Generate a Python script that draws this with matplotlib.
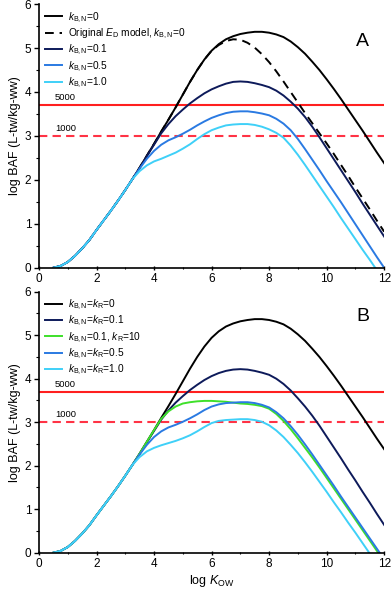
import matplotlib
matplotlib.use("Agg")
import matplotlib.pyplot as plt
from matplotlib.ticker import MultipleLocator

plt.rcParams.update(
    {
        "font.family": ["Liberation Sans", "DejaVu Sans"],
        "mathtext.fontset": "custom",
        "mathtext.rm": "Liberation Sans",
        "mathtext.it": "Liberation Sans:italic",
        "mathtext.bf": "Liberation Sans:bold",
        "axes.linewidth": 1.2,
    }
)

# shared log KOW grid (0.5 .. 12.0 in steps of 0.25)
log_kow = [0.5 + 0.25 * i for i in range(47)]

rise = [0.00, 0.04, 0.13, 0.27, 0.44, 0.63, 0.86, 1.08, 1.30, 1.53, 1.77, 2.02]  # 0.5 .. 3.25

black = rise + [
    2.28, 2.55, 2.82, 3.10, 3.37, 3.65, 3.94, 4.23, 4.50, 4.74, 4.94, 5.09, 5.20, 5.27,
    5.32, 5.35, 5.37, 5.37, 5.35, 5.31, 5.25, 5.15, 5.02, 4.87, 4.69, 4.50, 4.29, 4.07,
    3.84, 3.60, 3.36, 3.12, 2.87, 2.62, 2.38,
]
dashed_ed = rise + [
    2.28, 2.55, 2.82, 3.10, 3.37, 3.65, 3.94, 4.23, 4.50, 4.74, 4.94, 5.07, 5.16, 5.20,
    5.19, 5.12, 5.01, 4.86, 4.68, 4.47, 4.24, 4.00, 3.76, 3.52, 3.29, 3.06, 2.83, 2.59,
    2.34, 2.09, 1.83, 1.58, 1.33, 1.07, 0.82,
]
navy_a = rise + [
    2.27, 2.54, 2.80, 3.06, 3.27, 3.45, 3.60, 3.74, 3.86, 3.97, 4.06, 4.13, 4.19, 4.23,
    4.24, 4.23, 4.20, 4.16, 4.11, 4.03, 3.92, 3.78, 3.62, 3.43, 3.21, 2.97, 2.72, 2.47,
    2.22, 1.97, 1.72, 1.46, 1.21, 0.96, 0.71,
]
blue_a = rise + [
    2.26, 2.48, 2.66, 2.80, 2.90, 2.97, 3.05, 3.14, 3.24, 3.33, 3.41, 3.47, 3.52, 3.55,
    3.56, 3.56, 3.54, 3.51, 3.47, 3.39, 3.28, 3.13, 2.93, 2.70, 2.46, 2.22, 1.97, 1.73,
    1.49, 1.24, 0.99, 0.74, 0.49, 0.24, 0.00,
]
cyan_a = rise + [
    2.20, 2.33, 2.42, 2.48, 2.55, 2.62, 2.71, 2.81, 2.93, 3.04, 3.13, 3.19, 3.24, 3.26,
    3.27, 3.27, 3.25, 3.21, 3.15, 3.07, 2.96, 2.78, 2.57, 2.34, 2.10, 1.86, 1.62, 1.38,
    1.13, 0.89, 0.65, 0.41, 0.18, -0.06, -0.30,
]

navy_b = rise + [
    2.27, 2.54, 2.80, 3.06, 3.27, 3.45, 3.60, 3.74, 3.86, 3.97, 4.06, 4.13, 4.18, 4.21,
    4.22, 4.21, 4.18, 4.14, 4.09, 4.00, 3.88, 3.73, 3.55, 3.36, 3.15, 2.92, 2.67, 2.42,
    2.17, 1.91, 1.66, 1.40, 1.15, 0.89, 0.64,
]
green_b = rise + [
    2.28, 2.55, 2.82, 3.08, 3.25, 3.36, 3.43, 3.46, 3.48, 3.49, 3.49, 3.48, 3.47, 3.45,
    3.43, 3.42, 3.40, 3.37, 3.31, 3.19, 3.03, 2.84, 2.63, 2.41, 2.19, 1.96, 1.72, 1.48,
    1.24, 1.00, 0.76, 0.52, 0.28, 0.04, -0.20,
]
blue_b = rise + [
    2.26, 2.48, 2.66, 2.79, 2.88, 2.94, 3.01, 3.09, 3.18, 3.28, 3.36, 3.41, 3.44, 3.45,
    3.46, 3.46, 3.44, 3.40, 3.34, 3.23, 3.09, 2.91, 2.71, 2.49, 2.26, 2.02, 1.78, 1.54,
    1.29, 1.05, 0.81, 0.57, 0.33, 0.09, -0.15,
]
cyan_b = rise + [
    2.20, 2.33, 2.41, 2.47, 2.52, 2.57, 2.63, 2.70, 2.79, 2.89, 2.98, 3.03, 3.05, 3.06,
    3.07, 3.07, 3.05, 3.01, 2.93, 2.81, 2.66, 2.48, 2.29, 2.08, 1.86, 1.63, 1.40, 1.16,
    0.93, 0.69, 0.46, 0.22, -0.02, -0.26, -0.50,
]

baf_5000 = 3.70  # log10(5000)
baf_1000 = 3.00  # log10(1000)

C_BLACK = "#000000"
C_NAVY = "#0d1a5a"
C_BLUE = "#2a7ae2"
C_CYAN = "#3fd0f8"
C_GREEN = "#3ee02a"
C_RED = "#ff1f1f"
C_RED_D = "#ff3345"

LW = 1.4
KBN = r"$k_{\mathrm{B,N}}$"
KR = r"$k_{\mathrm{R}}$"

fig = plt.figure(figsize=(3.92, 5.91), dpi=100)
ax_a = fig.add_axes([0.0995, 0.547, 0.8805, 0.446])
ax_b = fig.add_axes([0.0995, 0.0648, 0.8805, 0.4416])


def style_axes(ax, letter, letter_y):
    ax.axhline(baf_5000, color=C_RED, lw=1.5, zorder=1)
    ax.axhline(baf_1000, color=C_RED_D, lw=1.5, ls=(0, (4, 2.5)), zorder=1)
    ax.text(0.55, baf_5000 + 0.07, "5000", fontsize=6.8, ha="left", va="bottom")
    ax.text(0.55, baf_1000 + 0.07, "1000", fontsize=6.8, ha="left", va="bottom")
    ax.text(11.25, letter_y, letter, fontsize=14, ha="center", va="center")
    ax.set_xlim(0, 12)
    ax.set_ylim(0, 6)
    ax.xaxis.set_major_locator(MultipleLocator(2))
    ax.xaxis.set_minor_locator(MultipleLocator(1))
    ax.yaxis.set_major_locator(MultipleLocator(1))
    ax.yaxis.set_minor_locator(MultipleLocator(0.5))
    ax.tick_params(axis="both", which="major", labelsize=8.5, length=3.5, width=1.0, pad=2)
    ax.tick_params(axis="both", which="minor", length=2, width=0.8)
    ax.tick_params(axis="x", which="both", direction="inout")
    for side in ("top", "right"):
        ax.spines[side].set_visible(False)
    ax.set_ylabel("log BAF (L-tw/kg-ww)", fontsize=9, labelpad=3)
    ax.legend(loc="upper left", bbox_to_anchor=(0.0, 1.0), frameon=False, fontsize=7.3,
              handlelength=1.7, handletextpad=0.55, labelspacing=0.2, borderaxespad=0.3,
              borderpad=0.3)


# panel A
ax_a.plot(log_kow, black, color=C_BLACK, lw=LW, label=KBN + "=0")
ax_a.plot(log_kow, dashed_ed, color=C_BLACK, lw=LW, ls=(0, (4.5, 3)),
          label=r"Original $E_{\mathrm{D}}$ model, " + KBN + "=0")
ax_a.plot(log_kow, navy_a, color=C_NAVY, lw=LW, label=KBN + "=0.1")
ax_a.plot(log_kow, blue_a, color=C_BLUE, lw=LW, label=KBN + "=0.5")
ax_a.plot(log_kow, cyan_a, color=C_CYAN, lw=LW, label=KBN + "=1.0")
style_axes(ax_a, "A", 5.14)

# panel B
ax_b.plot(log_kow, black, color=C_BLACK, lw=LW, label=KBN + "=" + KR + "=0")
ax_b.plot(log_kow, navy_b, color=C_NAVY, lw=LW, label=KBN + "=" + KR + "=0.1")
ax_b.plot(log_kow, green_b, color=C_GREEN, lw=LW, label=KBN + "=0.1, " + KR + "=10")
ax_b.plot(log_kow, blue_b, color=C_BLUE, lw=LW, label=KBN + "=" + KR + "=0.5")
ax_b.plot(log_kow, cyan_b, color=C_CYAN, lw=LW, label=KBN + "=" + KR + "=1.0")
style_axes(ax_b, "B", 5.42)
ax_b.set_xlabel(r"log $K_{\mathrm{OW}}$", fontsize=9, labelpad=2)

fig.savefig("out.png", dpi=100)
